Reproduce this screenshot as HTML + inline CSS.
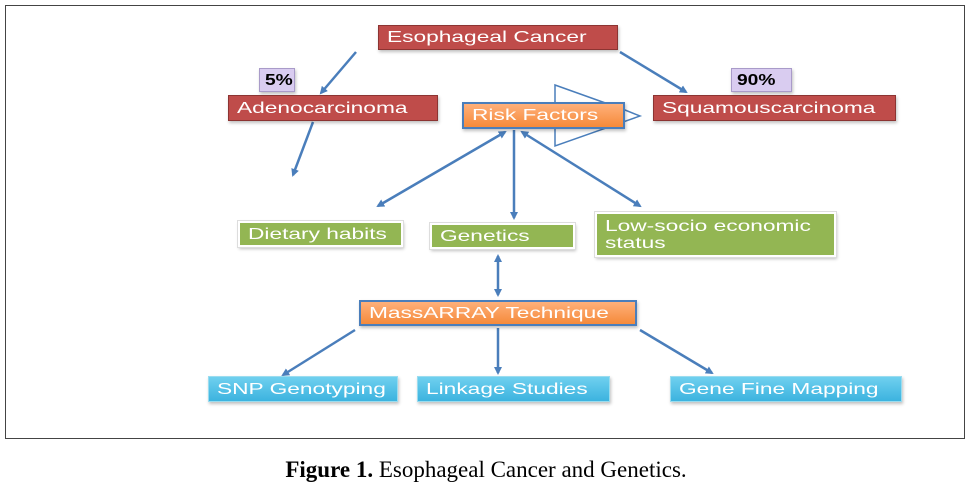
<!DOCTYPE html>
<html><head><style>
body{margin:0;width:972px;height:485px;background:#fff;position:relative;font-family:"Liberation Sans",sans-serif;overflow:hidden}
.frame{position:absolute;left:5px;top:5px;width:960px;height:434px;border:1px solid #444;box-sizing:border-box}
.b{position:absolute;box-sizing:border-box;color:#fff;font-size:16px;padding-left:8px;display:flex;align-items:center;box-shadow:1px 2px 3px rgba(0,0,0,0.25);white-space:nowrap}
.b span{display:inline-block;transform:scaleX(1.42);transform-origin:left center;line-height:17px}
.red{background:#bf4c4a;border:1px solid #8c3432}
.grn{background:#93b653;border:2px solid #fff;outline:1px solid #ddd}
.blu{background:linear-gradient(#6fd0ef,#3cb3df);border:1px solid #9adcef}
.org{background:linear-gradient(#ffb07a,#f58a3a);border:2px solid #4a7ebb}
.pur{background:#d9ccf0;border:1px solid #a99bc9;color:#000;font-weight:bold;padding-left:5px}
.pur span{transform:scaleX(1.2)}
.cap{position:absolute;top:457px;left:0;width:972px;text-align:center;font-family:"Liberation Serif",serif;font-size:23px}
</style></head><body>
<div class="frame"></div>
<svg width="972" height="485" style="position:absolute;left:0;top:0">
<defs><marker id="a" markerWidth="8" markerHeight="8" refX="6" refY="4" orient="auto-start-reverse" markerUnits="userSpaceOnUse"><path d="M0,0 L8,4 L0,8 Z" fill="#4a7ebb"/></marker></defs>
<g stroke="#4a7ebb" stroke-width="2.5" fill="none">
<polygon points="555,85 625,110 640,116 555,146" stroke-width="1.5" fill="#fff"/>
<line x1="356" y1="52" x2="321" y2="93" marker-end="url(#a)"/>
<line x1="313" y1="122" x2="293" y2="175" marker-end="url(#a)"/>
<line x1="620" y1="52" x2="686" y2="92" marker-end="url(#a)"/>
<line x1="505" y1="132" x2="378" y2="206" marker-start="url(#a)" marker-end="url(#a)"/>
<line x1="514" y1="130" x2="514" y2="218" marker-end="url(#a)"/>
<line x1="522" y1="132" x2="640" y2="206" marker-start="url(#a)" marker-end="url(#a)"/>
<line x1="498" y1="256" x2="498" y2="295" marker-start="url(#a)" marker-end="url(#a)"/>
<line x1="355" y1="330" x2="283" y2="375" marker-end="url(#a)"/>
<line x1="498" y1="328" x2="498" y2="373" marker-end="url(#a)"/>
<line x1="640" y1="330" x2="712" y2="373" marker-end="url(#a)"/>
</g></svg>
<div class="b red" style="left:378px;top:25px;width:240px;height:25px"><span>Esophageal Cancer</span></div>
<div class="b pur" style="left:259px;top:68px;width:36px;height:24px"><span>5%</span></div>
<div class="b red" style="left:228px;top:95px;width:210px;height:26px"><span>Adenocarcinoma</span></div>
<div class="b pur" style="left:731px;top:68px;width:61px;height:24px"><span>90%</span></div>
<div class="b red" style="left:653px;top:95px;width:243px;height:26px"><span>Squamouscarcinoma</span></div>
<div class="b org" style="left:462px;top:102px;width:163px;height:27px"><span>Risk Factors</span></div>
<div class="b grn" style="left:238px;top:221px;width:165px;height:26px"><span>Dietary habits</span></div>
<div class="b grn" style="left:430px;top:223px;width:145px;height:26px"><span>Genetics</span></div>
<div class="b grn" style="left:595px;top:212px;width:241px;height:45px;align-items:flex-start;padding-top:4px"><span>Low-socio economic<br>status</span></div>
<div class="b org" style="left:359px;top:300px;width:278px;height:26px"><span>MassARRAY Technique</span></div>
<div class="b blu" style="left:208px;top:376px;width:190px;height:26px"><span>SNP Genotyping</span></div>
<div class="b blu" style="left:417px;top:376px;width:193px;height:26px"><span>Linkage Studies</span></div>
<div class="b blu" style="left:670px;top:376px;width:232px;height:26px"><span>Gene Fine Mapping</span></div>
<div class="cap"><b>Figure 1.</b> Esophageal Cancer and Genetics.</div>
</body></html>
